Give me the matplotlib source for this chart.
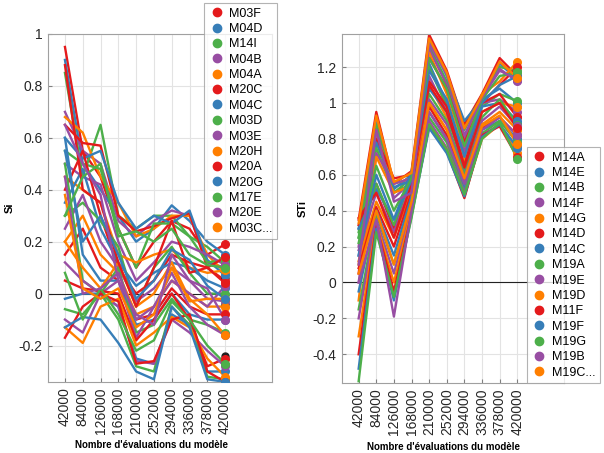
import matplotlib.pyplot as plt
from matplotlib.lines import Line2D

plt.rcParams['font.family'] = ['Liberation Sans', 'DejaVu Sans']

# number of model evaluations
n_evals = [42000, 84000, 126000, 168000, 210000, 252000, 294000, 336000, 378000, 420000]
tick_labels = [str(v) for v in n_evals]

# first-order indices (Si), one row per parameter
si_values = [
    [0.95, 0.55, 0.45, 0.25, 0.10, 0.20, 0.28, 0.25, 0.15, 0.19],
    [0.90, 0.50, 0.40, 0.30, 0.20, 0.25, 0.34, 0.28, 0.20, 0.15],
    [0.85, 0.45, 0.65, 0.30, 0.25, 0.30, 0.30, 0.22, 0.18, 0.12],
    [0.70, 0.55, 0.50, 0.28, 0.22, 0.28, 0.32, 0.30, 0.12, 0.10],
    [0.68, 0.62, 0.45, 0.35, 0.22, 0.25, 0.30, 0.30, 0.15, 0.08],
    [0.65, 0.58, 0.57, 0.30, 0.24, 0.26, 0.29, 0.31, 0.10, 0.05],
    [0.60, 0.52, 0.55, 0.35, 0.25, 0.30, 0.27, 0.32, 0.13, 0.07],
    [0.55, 0.50, 0.48, 0.25, 0.10, 0.27, 0.27, 0.22, 0.12, 0.13],
    [0.50, 0.45, 0.42, 0.20, 0.05, 0.12, 0.20, 0.18, 0.15, 0.11],
    [0.45, 0.40, 0.35, 0.15, 0.12, 0.15, 0.17, 0.10, 0.08, 0.09],
    [0.40, 0.55, 0.30, 0.10, 0.00, 0.05, 0.15, 0.12, 0.10, 0.14],
    [0.35, 0.48, 0.25, 0.12, 0.03, 0.08, 0.12, 0.10, 0.05, 0.02],
    [0.30, 0.35, 0.28, 0.18, -0.05, 0.10, 0.18, 0.08, 0.00, 0.00],
    [0.25, 0.38, 0.20, 0.10, -0.03, 0.02, 0.10, 0.05, -0.02, -0.03],
    [0.20, 0.30, 0.15, 0.08, -0.08, -0.05, 0.05, 0.00, -0.05, -0.05],
    [0.15, 0.25, 0.10, 0.05, -0.10, -0.08, 0.02, -0.05, -0.08, -0.08],
    [0.60, 0.15, 0.05, 0.05, -0.12, -0.10, 0.00, -0.08, -0.10, -0.10],
    [0.50, 0.05, 0.00, 0.10, -0.15, -0.12, -0.02, -0.10, -0.12, -0.15],
    [0.12, 0.05, 0.00, 0.05, -0.17, -0.05, 0.08, -0.05, -0.12, -0.16],
    [0.20, 0.10, 0.02, 0.12, -0.05, 0.00, 0.12, -0.02, -0.08, -0.16],
    [0.05, 0.02, 0.01, 0.00, -0.18, -0.10, 0.00, -0.10, -0.28, -0.25],
    [-0.02, 0.00, 0.00, -0.05, -0.25, -0.27, -0.08, -0.12, -0.30, -0.30],
    [-0.06, -0.08, 0.00, -0.10, -0.28, -0.30, -0.05, -0.12, -0.32, -0.33],
    [-0.10, -0.15, 0.00, -0.05, -0.26, -0.27, -0.10, -0.15, -0.22, -0.28],
    [-0.13, -0.19, -0.05, -0.02, -0.20, -0.15, -0.09, -0.13, -0.25, -0.32],
    [-0.17, -0.05, 0.00, -0.03, -0.27, -0.26, -0.10, -0.08, -0.30, -0.34],
    [-0.13, -0.09, -0.10, -0.19, -0.30, -0.33, -0.05, -0.13, -0.33, -0.34],
    [0.08, -0.10, 0.02, -0.08, -0.22, -0.18, -0.03, -0.10, -0.20, -0.27],
    [0.45, 0.00, 0.02, 0.08, -0.10, -0.05, 0.05, 0.00, -0.05, 0.03],
    [0.38, 0.02, -0.02, 0.02, -0.13, -0.08, 0.10, -0.03, -0.02, -0.02],
    [0.88, 0.40, 0.35, 0.12, -0.05, 0.10, 0.28, 0.08, 0.10, 0.04],
    [0.55, 0.20, 0.30, 0.15, -0.02, 0.05, 0.17, 0.13, 0.03, -0.02],
    [0.30, 0.45, 0.50, 0.22, 0.24, 0.20, 0.25, 0.15, 0.11, 0.10],
    [0.65, 0.50, 0.38, 0.05, -0.08, -0.12, 0.15, 0.05, 0.02, -0.10],
]

# total indices (STi)
sti_values = [
    [0.35, 0.95, 0.55, 0.62, 1.38, 1.18, 0.88, 1.05, 1.25, 1.15],
    [0.30, 0.90, 0.52, 0.60, 1.35, 1.15, 0.90, 1.02, 1.22, 1.13],
    [0.25, 0.88, 0.50, 0.58, 1.32, 1.12, 0.85, 1.04, 1.20, 1.18],
    [0.20, 0.85, 0.47, 0.56, 1.30, 1.10, 0.80, 1.03, 1.19, 1.12],
    [0.10, 0.82, 0.55, 0.58, 1.28, 1.05, 0.75, 1.05, 1.12, 1.23],
    [0.05, 0.80, 0.58, 0.60, 1.25, 1.08, 0.78, 1.00, 1.10, 1.20],
    [0.15, 0.78, 0.53, 0.57, 1.22, 1.00, 0.72, 1.02, 1.08, 1.00],
    [0.28, 0.75, 0.50, 0.55, 1.20, 0.98, 0.70, 0.98, 1.05, 1.01],
    [0.00, 0.72, 0.55, 0.58, 1.15, 0.95, 0.73, 1.00, 1.02, 0.95],
    [-0.10, 0.70, 0.50, 0.54, 1.10, 0.92, 0.68, 0.95, 1.00, 0.98],
    [0.32, 0.55, 0.30, 0.60, 1.12, 0.98, 0.65, 1.00, 1.05, 0.92],
    [0.30, 0.52, 0.35, 0.62, 1.08, 0.95, 0.62, 0.98, 1.00, 0.90],
    [0.25, 0.55, 0.32, 0.58, 1.05, 0.90, 0.60, 0.92, 1.02, 0.88],
    [0.18, 0.50, 0.28, 0.55, 1.02, 0.88, 0.58, 0.90, 0.98, 0.87],
    [0.12, 0.45, 0.25, 0.52, 1.00, 0.85, 0.55, 0.88, 0.95, 0.85],
    [0.08, 0.42, 0.20, 0.50, 0.98, 0.82, 0.55, 0.86, 0.92, 0.82],
    [-0.05, 0.40, 0.15, 0.48, 0.95, 0.80, 0.52, 0.85, 0.90, 0.80],
    [-0.15, 0.38, 0.10, 0.45, 0.92, 0.78, 0.50, 0.83, 0.90, 0.78],
    [-0.20, 0.35, 0.05, 0.42, 0.90, 0.75, 0.50, 0.82, 0.88, 0.75],
    [-0.30, 0.33, 0.00, 0.40, 0.88, 0.74, 0.48, 0.80, 0.88, 0.72],
    [-0.40, 0.32, -0.05, 0.38, 0.87, 0.73, 0.47, 0.82, 0.87, 0.70],
    [-0.48, 0.30, -0.10, 0.37, 0.86, 0.72, 0.48, 0.81, 0.88, 0.75],
    [-0.55, 0.28, -0.08, 0.36, 0.88, 0.74, 0.49, 0.80, 0.89, 0.69],
    [0.00, 0.35, -0.19, 0.40, 0.95, 0.80, 0.55, 0.85, 0.92, 0.82],
    [0.05, 0.40, 0.10, 0.45, 1.00, 0.85, 0.58, 0.87, 0.93, 0.77],
    [0.36, 0.50, 0.25, 0.55, 1.10, 0.95, 0.64, 0.95, 1.00, 0.86],
    [0.15, 0.60, 0.35, 0.57, 1.18, 1.02, 0.70, 1.00, 1.10, 1.15],
    [0.22, 0.65, 0.40, 0.58, 1.25, 1.08, 0.76, 1.02, 1.15, 1.17],
    [0.10, 0.85, 0.45, 0.50, 1.33, 1.16, 0.82, 1.03, 1.18, 1.13],
    [0.33, 0.93, 0.56, 0.61, 1.36, 1.17, 0.86, 1.04, 1.23, 1.14],
]

# dark end markers stacked at the last evaluation
si_black_ends = [0.12, 0.09, 0.06, 0.03, 0.00, -0.02, -0.04, -0.24, -0.27]
sti_black_ends = [1.17, 1.15, 0.98, 0.92, 0.89, 0.87, 0.85, 0.80, 0.76]

si_names = ['M03F', 'M04D', 'M14I', 'M04B', 'M04A', 'M20C', 'M04C', 'M03D',
            'M03E', 'M20H', 'M20A', 'M20G', 'M17E', 'M20E', 'M03C...']
sti_names = ['M14A', 'M14E', 'M14B', 'M14F', 'M14G', 'M14D', 'M14C', 'M19A',
             'M19E', 'M19D', 'M11F', 'M19F', 'M19G', 'M19B', 'M19C...']

si_ticks = [-0.2, 0, 0.2, 0.4, 0.6, 0.8, 1]
si_tick_labels = ['-0.2', '0', '0.2', '0.4', '0.6', '0.8', '1']
sti_ticks = [-0.4, -0.2, 0, 0.2, 0.4, 0.6, 0.8, 1, 1.2]
sti_tick_labels = ['-0.4', '-0.2', '0', '0.2', '0.4', '0.6', '0.8', '1', '1.2']

colors = ['#e41a1c', '#377eb8', '#4daf4a', '#984ea3', '#ff7f00']

fig = plt.figure(figsize=(6.04, 4.53), dpi=100)
ax1 = fig.add_axes([0.0795, 0.157, 0.371, 0.768])
ax2 = fig.add_axes([0.566, 0.1545, 0.3675, 0.770])


def draw_panel(ax, values, black_ends, ticks, labels, ylim, ylabel):
    for i, row in enumerate(values):
        c = colors[i % len(colors)]
        ax.plot(n_evals, row, color=c, lw=1.7, zorder=2)
    ax.plot([n_evals[-1]] * len(black_ends), black_ends, 'o', color='#202020',
            ms=5, zorder=3)
    for i, row in enumerate(values):
        c = colors[i % len(colors)]
        ax.plot(n_evals[-1], row[-1], 'o', color=c, ms=5.5, zorder=4)
    ax.axhline(0, color='#222222', lw=0.8, zorder=1)
    ax.set_xlim(2000, 531000)
    ax.set_ylim(*ylim)
    ax.set_xticks(n_evals)
    ax.set_xticklabels(tick_labels, rotation=90, fontsize=10, color='#262626')
    ax.set_yticks(ticks)
    ax.set_yticklabels(labels, fontsize=10, color='#262626')
    ax.grid(True, color='#e3e3e3', lw=0.8, zorder=0)
    ax.set_axisbelow(True)
    ax.tick_params(direction='in', length=3, color='#808080', pad=4)
    for s in ax.spines.values():
        s.set_color('#a0a0a0')
        s.set_linewidth(0.8)
    ax.set_ylabel(ylabel, fontsize=8, fontweight='bold', labelpad=3)
    ax.set_xlabel("Nombre d'évaluations du modèle", fontsize=7,
                  fontweight='bold')
    ax.xaxis.set_label_coords(0.46, -0.168)


draw_panel(ax1, si_values, si_black_ends, si_ticks, si_tick_labels,
           (-0.34, 1.0), 'Si')
draw_panel(ax2, sti_values, sti_black_ends, sti_ticks, sti_tick_labels,
           (-0.56, 1.383), 'STi')


def make_handles(names):
    return [Line2D([], [], ls='', marker='o', ms=6, color=colors[i % len(colors)],
                   label=n) for i, n in enumerate(names)]


leg1 = fig.legend(handles=make_handles(si_names), loc='upper left',
                  bbox_to_anchor=(0.338, 0.993), borderaxespad=0, fontsize=9,
                  frameon=True, fancybox=False, edgecolor='#a0a0a0',
                  handletextpad=0.35, labelspacing=0.27, borderpad=0.35,
                  handlelength=1.3)
leg1.get_frame().set_linewidth(0.8)
leg2 = fig.legend(handles=make_handles(sti_names), loc='upper left',
                  bbox_to_anchor=(0.8725, 0.675), borderaxespad=0, fontsize=9,
                  frameon=True, fancybox=False, edgecolor='#a0a0a0',
                  handletextpad=0.35, labelspacing=0.27, borderpad=0.35,
                  handlelength=1.3)
leg2.get_frame().set_linewidth(0.8)

fig.savefig('out.png', dpi=100)
